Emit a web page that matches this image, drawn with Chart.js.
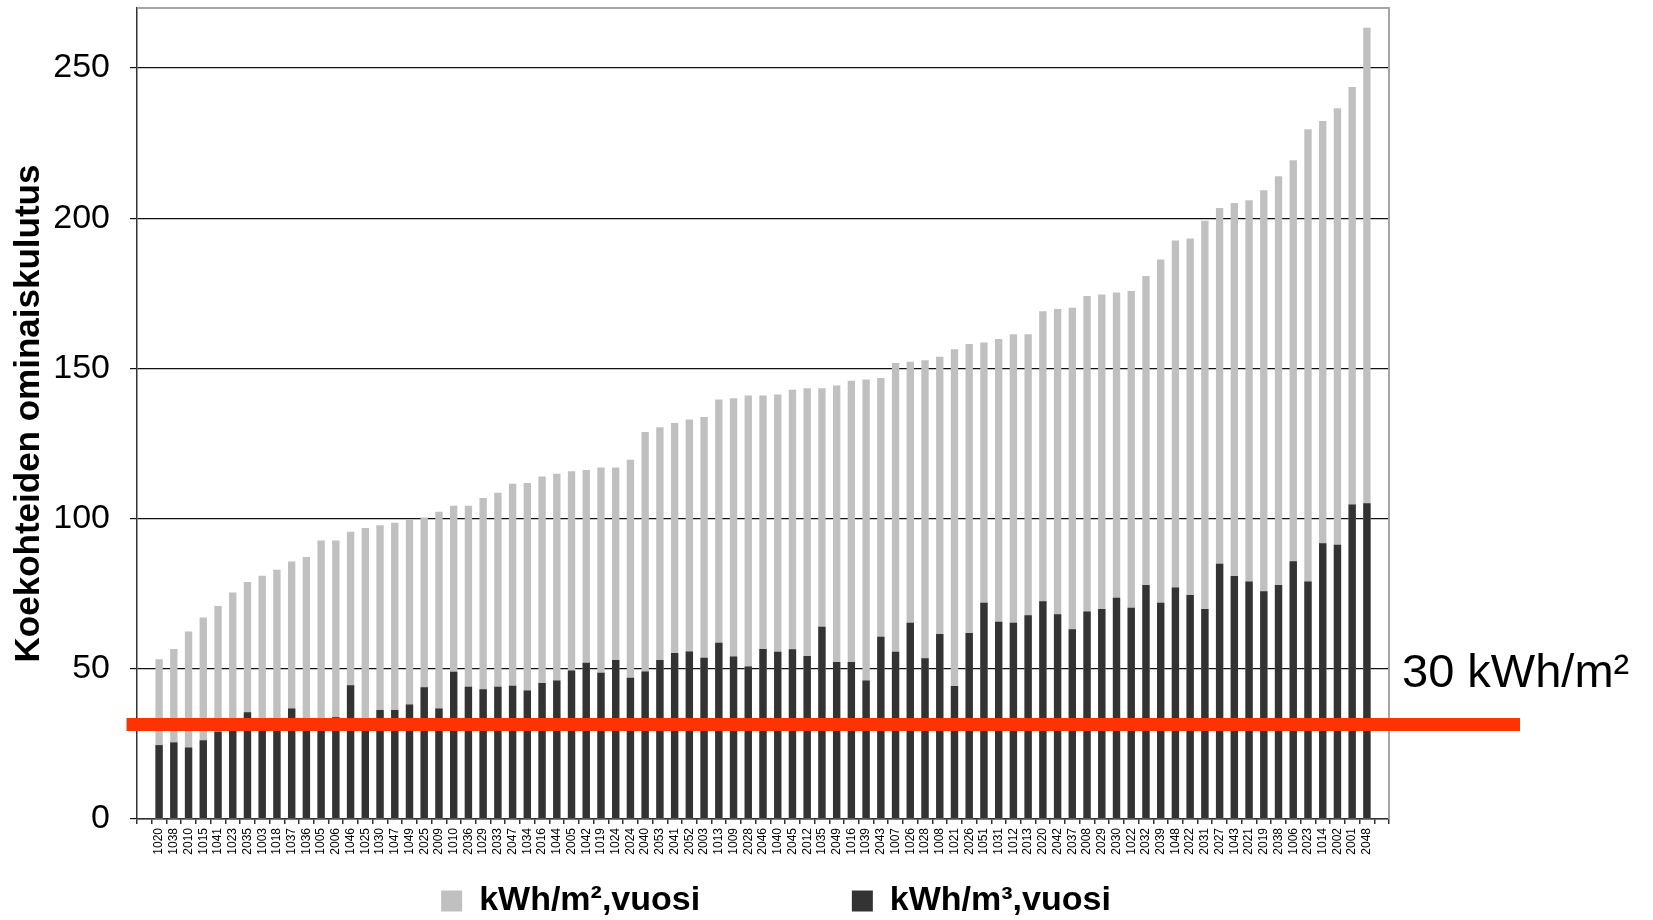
<!DOCTYPE html>
<html><head><meta charset="utf-8">
<script src="https://cdn.jsdelivr.net/npm/chart.js@4.4.1/dist/chart.umd.min.js"></script>
<style>html,body{margin:0;padding:0;background:#fff;}</style>
</head><body>
<canvas id="c" width="1653" height="920"></canvas>
<script>
const categories = ['1020','1038','2010','1015','1041','1023','2035','1003','1018','1037','1036','1005','2006','1046','1025','1030','1047','1049','2025','2009','1010',
'2036','1029','2033','2047','1034','2016','1044','2005','1042','1019','1024','2024','2040','2053','2041','2052','2003','1013','1009','2028','2046',
'1040','2045','2012','1035','2049','1016','1039','2043','1007','1026','1028','1008','1021','2026','1051','1031','1012','2013','2020','2042','2037',
'2008','2029','2030','1022','2032','2039','1048','2022','2031','2027','1043','2021','2019','2038','1006','2023','1014','2002','2001','2048'];

const kwhPerM2 = [53.2,56.6,62.4,67.1,70.9,75.4,78.9,81.0,83.0,85.7,87.2,92.7,92.7,95.6,96.9,97.8,98.6,99.9,100.4,102.3,104.3,
104.3,106.9,108.6,111.6,111.9,114.0,114.9,115.8,116.2,117.0,117.0,119.6,128.8,130.4,131.8,133.0,133.8,139.7,140.1,141.0,141.0,
141.3,142.9,143.4,143.4,144.3,145.9,146.3,146.8,151.8,152.2,152.7,153.9,156.4,158.1,158.6,159.8,161.4,161.4,169.0,169.8,170.2,
174.1,174.6,175.3,175.8,180.8,186.3,192.6,193.3,199.2,203.4,205.1,206.0,209.3,214.0,219.3,229.6,232.4,236.6,243.7,263.4];

const kwhPerM3 = [24.6,25.5,23.8,26.2,29.1,31.0,35.5,32.0,31.0,36.8,32.0,31.0,33.9,44.5,33.0,36.3,36.3,38.1,43.9,36.8,49.0,
44.0,43.2,44.0,44.4,42.8,45.3,46.1,49.4,52.0,48.7,52.9,47.0,49.1,52.9,55.3,55.8,53.7,58.7,54.1,50.8,56.6,
55.7,56.5,54.3,64.0,52.3,52.3,46.1,60.7,55.7,65.3,53.5,61.6,44.3,61.9,72.0,65.7,65.3,67.8,72.5,68.2,63.2,
69.1,69.9,73.7,70.3,77.9,72.0,77.1,74.6,69.9,85.0,80.9,79.1,75.8,77.9,85.8,79.1,91.8,91.3,104.7,105.1];

const seriesLabels = ['kWh/m²,vuosi', 'kWh/m³,vuosi'];
const yAxisTitle = 'Koekohteiden ominaiskulutus';
const yMin = 0, yMax = 270, yStep = 50;
const refValue = 31.5;
const refLabel = '30 kWh/m²';

const FONT = "'Liberation Sans', Arial, sans-serif";

// one empty slot at each end of the category axis reproduces the gap the original plot leaves
const xLabels = [''].concat(categories, ['']);
const padded = arr => [null].concat(arr, [null]);

const framePlugin = {
  id: 'frame',
  beforeDatasetsDraw(chart) {
    const {ctx, chartArea: a} = chart;
    ctx.save();
    ctx.strokeStyle = '#a6a6a6';
    ctx.lineWidth = 2;
    ctx.beginPath();
    ctx.moveTo(a.left, a.top);
    ctx.lineTo(a.right, a.top);
    ctx.lineTo(a.right, a.bottom);
    ctx.stroke();
    ctx.restore();
  }
};

const legendShift = {
  id: 'legendShift',
  afterLayout(chart) {
    const l = chart.legend;
    if (l) { l.left += 13; l.right += 13; }
  }
};

const refPlugin = {
  id: 'refLine',
  afterDraw(chart) {
    const {ctx, chartArea: a, scales: {y}} = chart;
    const py = y.getPixelForValue(refValue);
    ctx.save();
    ctx.strokeStyle = '#ff3300';
    ctx.lineWidth = 13;
    ctx.beginPath();
    ctx.moveTo(a.left - 10.5, py);
    ctx.lineTo(a.right + 131, py);
    ctx.stroke();
    ctx.fillStyle = '#000';
    ctx.font = '47px ' + FONT;
    ctx.textAlign = 'left';
    ctx.textBaseline = 'middle';
    ctx.fillText(refLabel, a.right + 13, py - 50);
    ctx.restore();
  }
};

function noAutoPad(s) {
  s.paddingTop = 0; s.paddingBottom = 0; s.paddingLeft = 0; s.paddingRight = 0;
}

new Chart(document.getElementById('c'), {
  type: 'bar',
  data: {
    labels: xLabels,
    datasets: [
      { label: seriesLabels[1], data: padded(kwhPerM3), backgroundColor: '#333333', borderWidth: 0,
        barPercentage: 0.5, categoryPercentage: 1.0 },
      { label: seriesLabels[0], data: padded(kwhPerM2), backgroundColor: '#c0c0c0', borderWidth: 0,
        barPercentage: 0.5, categoryPercentage: 1.0 }
    ]
  },
  options: {
    responsive: false,
    animation: false,
    devicePixelRatio: 1,
    layout: { padding: { top: 8, right: 264, bottom: 0, left: 0 }, autoPadding: false },
    plugins: {
      tooltip: { enabled: false },
      legend: {
        position: 'bottom',
        fullSize: false,
        maxHeight: 46,
        labels: {
          font: { family: FONT, size: 34, weight: 'bold' },
          color: '#000',
          boxWidth: 21,
          boxHeight: 21,
          padding: 10,
          sort: (a, b) => b.datasetIndex - a.datasetIndex,
          generateLabels(chart) {
            const items = Chart.defaults.plugins.legend.labels.generateLabels(chart);
            items.forEach(it => {
              it.lineWidth = 0;
              if (it.datasetIndex === 1) it.text = it.text + '\u00a0'.repeat(15);
            });
            return items;
          }
        }
      }
    },
    scales: {
      x: {
        stacked: true,
        offset: true,
        grid: { offset: true, drawOnChartArea: false, drawTicks: true, tickLength: 5, color: '#333', lineWidth: 1.5 },
        border: { color: '#333', width: 1.5 },
        ticks: { autoSkip: false, minRotation: 90, maxRotation: 90, padding: 4,
                 font: { family: FONT, size: 12 }, color: '#000' },
        afterFit(s) { s.height = 55; noAutoPad(s); }
      },
      y: {
        stacked: false,
        min: yMin, max: yMax,
        z: 1,
        afterBuildTicks(s) { s.ticks = s.ticks.filter(t => t.value % yStep === 0); },
        grid: { color: '#111', lineWidth: 1.2, tickLength: 7, drawTicks: true },
        border: { color: '#333', width: 1.5 },
        ticks: { stepSize: yStep, padding: 20, font: { family: FONT, size: 34 }, color: '#000' },
        title: { display: true, text: yAxisTitle, color: '#000',
                 font: { family: FONT, size: 35, weight: 'bold' }, padding: { top: 8, bottom: 0 } },
        afterFit(s) { s.width = 137; noAutoPad(s); }
      }
    }
  },
  plugins: [framePlugin, legendShift, refPlugin]
});
</script>
</body></html>
